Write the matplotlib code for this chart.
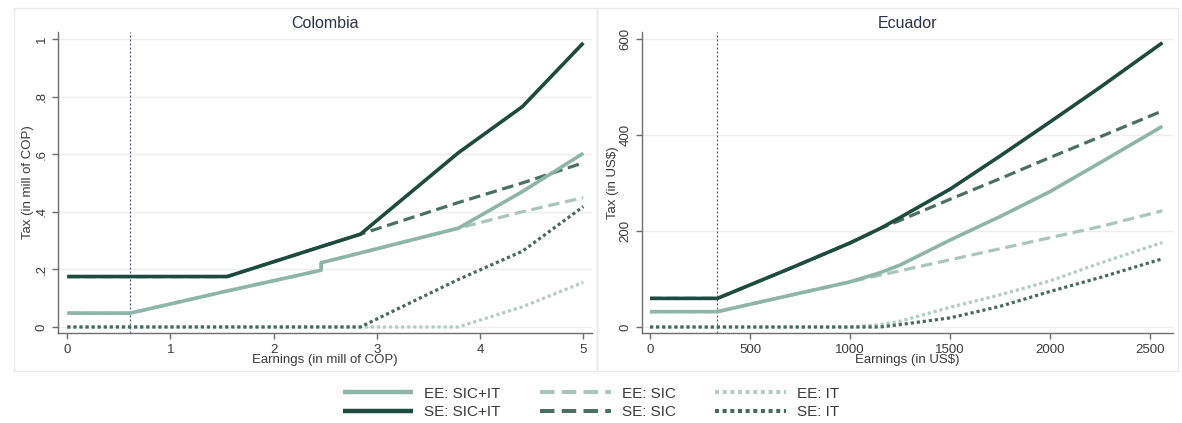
import matplotlib
matplotlib.use("Agg")
import matplotlib.pyplot as plt
from matplotlib.lines import Line2D
from matplotlib.patches import Rectangle

plt.rcParams['font.family'] = ['Liberation Sans', 'DejaVu Sans']

# ---------------- Data ----------------
# Colombia (earnings and tax in millions of COP)
col_x = [0, 0.61, 1.55, 2.46, 2.46, 2.84, 3.79, 4.41, 5.0]
col_se_total = [0.175, 0.175, 0.175, 0.279, 0.279, 0.322, 0.605, 0.765, 0.986]
col_se_sic = [0.175, 0.175, 0.175, 0.279, 0.279, 0.322, 0.432, 0.500, 0.570]
col_se_it = [0, 0, 0, 0, 0, 0, 0.165, 0.263, 0.418]
col_ee_total = [0.048, 0.048, 0.125, 0.197, 0.223, 0.257, 0.343, 0.470, 0.603]
col_ee_sic = [0.048, 0.048, 0.125, 0.197, 0.223, 0.257, 0.343, 0.400, 0.449]
col_ee_it = [0, 0, 0, 0, 0, 0, 0, 0.070, 0.155]
col_threshold = 0.61

# Ecuador (earnings and tax in US$)
ec_x = [0, 337, 700, 1000, 1150, 1250, 1500, 1750, 2000, 2250, 2562]
ec_se_total = [59.6, 59.6, 122, 175, 205, 228, 287, 356, 427, 499, 592]
ec_se_sic = [59.6, 59.6, 122, 175, 205, 222, 266, 309, 353, 396, 450]
ec_se_it = [0, 0, 0, 0, 0, 5, 19, 43, 74, 103, 142]
ec_ee_total = [32, 32, 66, 94, 113, 129, 181, 230, 282, 342, 418]
ec_ee_sic = [32, 32, 66, 94, 108, 117, 140, 163, 186, 209, 242]
ec_ee_it = [0, 0, 0, 0, 5, 12, 41, 67, 96, 133, 176]
ec_threshold = 337

col_xticks = [0, 1, 2, 3, 4, 5]
col_yticks = [0, 0.2, 0.4, 0.6, 0.8, 1.0]
col_yticklabels = ['0', '.2', '.4', '.6', '.8', '1']
ec_xticks = [0, 500, 1000, 1500, 2000, 2500]
ec_yticks = [0, 200, 400, 600]
ec_yticklabels = ['0', '200', '400', '600']

labels = ['EE: SIC+IT', 'SE: SIC+IT', 'EE: SIC', 'SE: SIC', 'EE: IT', 'SE: IT']

# ---------------- Styles ----------------
C_EE = '#8fb5a8'
C_SE = '#1f4b3f'
C_EE_D = '#a8c6bb'
C_SE_D = '#4a6f63'
C_EE_DOT = '#b2cdc3'
C_SE_DOT = '#476a5f'

styles = [
    dict(color=C_EE, lw=2.6, ls='-', z=2.6),
    dict(color=C_SE, lw=2.6, ls='-', z=2.7),
    dict(color=C_EE_D, lw=2.3, ls=(0, (3.6, 1.8)), z=2.4),
    dict(color=C_SE_D, lw=2.3, ls=(0, (3.6, 1.8)), z=2.5),
    dict(color=C_EE_DOT, lw=2.3, ls=(0, (1.0, 0.9)), z=2.1),
    dict(color=C_SE_DOT, lw=2.3, ls=(0, (1.0, 0.9)), z=2.2),
]

W, H = 1182, 423
fig = plt.figure(figsize=(W / 100, H / 100), dpi=100)
fig.patch.set_facecolor('white')

# panel borders
for (x0, x1) in [(14, 597), (597, 1178)]:
    fig.patches.append(Rectangle((x0 / W, 1 - 371 / H), (x1 - x0) / W, (371 - 8) / H,
                                 transform=fig.transFigure, fill=False,
                                 edgecolor='#e9e9e9', lw=1.0))

def make_ax(left_px, right_px):
    top_px, bot_px = 31.7, 333.3
    return fig.add_axes([left_px / W, 1 - bot_px / H, (right_px - left_px) / W, (bot_px - top_px) / H])

ax1 = make_ax(58.3, 592)
ax2 = make_ax(641.7, 1173)

TXT = '#3a3a3a'
SP = '#6e6e6e'

def style_ax(ax, title, xlabel, ylabel, xticks, yticks, yticklabels, xlim, ylim, ylab_x):
    ax.set_xlim(*xlim)
    ax.set_ylim(*ylim)
    for s in ['top', 'right']:
        ax.spines[s].set_visible(False)
    for s in ['left', 'bottom']:
        ax.spines[s].set_color(SP)
        ax.spines[s].set_linewidth(1.0)
    ax.set_xticks(xticks)
    ax.set_xticklabels([str(t) for t in xticks])
    ax.set_yticks(yticks)
    ax.set_yticklabels(yticklabels, rotation=90, va='center')
    ax.tick_params(axis='both', colors=SP, labelcolor=TXT, labelsize=9.5, length=4.5, width=1.0, direction='out')
    ax.tick_params(axis='x', pad=3)
    ax.tick_params(axis='y', pad=3)
    ax.grid(axis='y', color='#eeeeee', lw=1.0)
    ax.set_axisbelow(True)
    ax.set_title(title, fontsize=11.5, color='#2a3347', pad=3)
    ax.set_xlabel(xlabel, fontsize=9.5, color=TXT, labelpad=-1)
    ax.set_ylabel(ylabel, fontsize=9.5, color=TXT, va='center')
    ax.yaxis.set_label_coords(ylab_x, 0.5)

col_series = [col_ee_total, col_se_total, col_ee_sic, col_se_sic, col_ee_it, col_se_it]
ec_series = [ec_ee_total, ec_se_total, ec_ee_sic, ec_se_sic, ec_ee_it, ec_se_it]

for ax, xs, series, thr in [(ax1, col_x, col_series, col_threshold),
                            (ax2, ec_x, ec_series, ec_threshold)]:
    ax.axvline(thr, color='#5c5a82', lw=0.9, ls=(0, (1.6, 1.6)), zorder=1.5)
    for ys, st in zip(series, styles):
        ax.plot(xs, ys, color=st['color'], lw=st['lw'], ls=st['ls'],
                solid_capstyle='butt', dash_capstyle='butt', zorder=st['z'])

style_ax(ax1, 'Colombia', 'Earnings (in mill of COP)', 'Tax (in mill of COP)',
         col_xticks, col_yticks, col_yticklabels, (-0.087, 5.084), (-0.022, 1.025),
         (28 - 58.3) / (592 - 58.3))
style_ax(ax2, 'Ecuador', 'Earnings (in US$)', 'Tax (in US$)',
         ec_xticks, ec_yticks, ec_yticklabels, (-41.5, 2615), (-13.1, 615),
         (613 - 641.7) / (1173 - 641.7))

handles = [Line2D([0], [0], color=st['color'], lw=st['lw'] + 0.6, ls=st['ls'],
                  solid_capstyle='butt', dash_capstyle='butt') for st in styles]
fig.legend(handles, labels, ncol=3, loc='center', bbox_to_anchor=(591 / W, 1 - 403 / H),
           frameon=False, fontsize=11, handlelength=4.6, handletextpad=0.72,
           columnspacing=2.6, labelspacing=0.3, labelcolor=TXT)

fig.savefig('out.png', dpi=100, facecolor='white')
